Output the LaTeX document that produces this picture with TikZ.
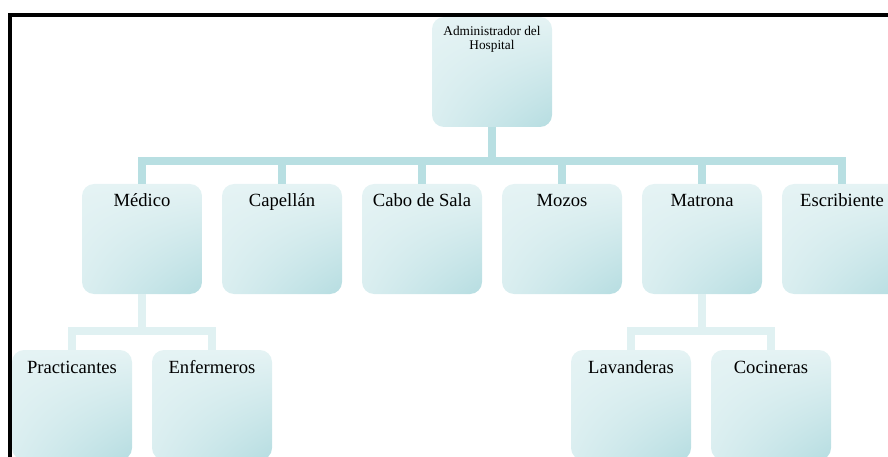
\documentclass[tikz,border=0pt]{standalone}
\usepackage{fontspec}
\setmainfont{Liberation Serif}
\usepackage{tikz}
\usepackage{xcolor}
\usetikzlibrary{shadings}

\definecolor{boxlight}{RGB}{229,243,244}
\definecolor{boxmid}{RGB}{218,238,240}
\definecolor{boxdark}{RGB}{182,221,225}
\definecolor{barteal}{RGB}{184,223,226}
\definecolor{barpale}{RGB}{224,241,242}

\tikzset{
        orgbox/.style={rectangle, rounded corners=12pt, minimum width=120pt, inner sep=0pt,
            shade, shading=bilinear interpolation, upper left=boxlight, upper right=boxlight,
            lower left=boxmid, lower right=boxdark,
            font=\fontsize{18.6}{22}\selectfont, text height=23pt, text depth=87pt},
        mainbar/.style={line width=8pt, barteal},
        subbar/.style={line width=8pt, barpale}
}

\begin{document}
\begin{tikzpicture}[x=1pt, y=-1pt]
        \useasboundingbox (0,0) rectangle (888,457);

        \node[orgbox, align=center, font=\fontsize{13.3}{14.5}\selectfont,
            text height=33pt, text depth=77pt] (admin) at (492,72) {Administrador del\\Hospital};

        \node[orgbox] (medico) at (142,239) {Médico};
        \node[orgbox] (capellan) at (282,239) {Capellán};
        \node[orgbox] (cabo) at (422,239) {Cabo de Sala};
        \node[orgbox] (mozos) at (562,239) {Mozos};
        \node[orgbox] (matrona) at (702,239) {Matrona};
        \node[orgbox] (escrib) at (842,239) {Escribiente};

        \node[orgbox] (practic) at (72,405) {Practicantes};
        \node[orgbox] (enferm) at (212,405) {Enfermeros};
        \node[orgbox] (lavand) at (631,405) {Lavanderas};
        \node[orgbox] (cocin) at (771,405) {Cocineras};

        \draw[mainbar] (admin.south) -- ++(0,34) -| (medico.north)
            (admin.south) -- ++(0,34) -| (capellan.north)
            (admin.south) -- ++(0,34) -| (cabo.north)
            (admin.south) -- ++(0,34) -| (mozos.north)
            (admin.south) -- ++(0,34) -| (matrona.north)
            (admin.south) -- ++(0,34) -| (escrib.north);
        \draw[subbar] (medico.south) -- ++(0,37) -| (practic.north)
            (medico.south) -- ++(0,37) -| (enferm.north)
            (matrona.south) -- ++(0,37) -| (lavand.north)
            (matrona.south) -- ++(0,37) -| (cocin.north);

        \draw[line width=4pt] (10,457) -- (10,15.5) -- (888,15.5);
    \end{tikzpicture}
\end{document}
